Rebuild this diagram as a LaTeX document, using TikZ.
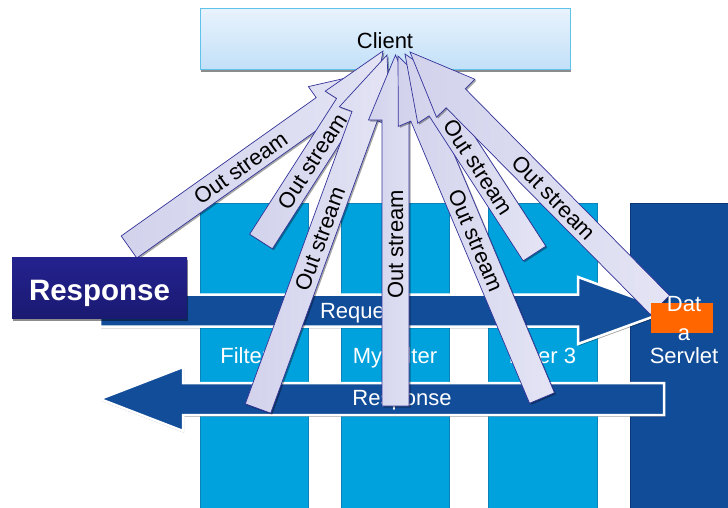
\documentclass[tikz,border=0pt]{standalone}
\usepackage{fontspec}
\setmainfont{Liberation Sans}
\usetikzlibrary{calc,shadows}

\definecolor{colfill}{HTML}{00A2DD}
\definecolor{colline}{HTML}{0A84B8}
\definecolor{servfill}{HTML}{104C98}
\definecolor{servline}{HTML}{0B3777}
\definecolor{flowblue}{HTML}{114D99}
\definecolor{streamdark}{HTML}{D2D2EC}
\definecolor{streamlight}{HTML}{E4E4F5}
\definecolor{streamline}{HTML}{33339A}
\definecolor{clienttop}{HTML}{E8F3FD}
\definecolor{clientbot}{HTML}{C3E0F8}
\definecolor{clientline}{HTML}{5EC2EA}
\definecolor{labeltop}{HTML}{24228F}
\definecolor{labelbot}{HTML}{1A1A72}
\definecolor{dataorange}{HTML}{FF6600}

\tikzset{
  filtercol/.style={fill=colfill, draw=colline, line width=0.8pt},
  servletcol/.style={fill=servfill, draw=servline, line width=0.8pt},
  flowarrow/.style={fill=flowblue, draw=white, line width=2.5pt, line join=miter,
    drop shadow={shadow xshift=1.2pt, shadow yshift=-1.8pt, opacity=0.35, fill=black}},
  streamshape/.style={left color=streamdark, right color=streamlight, draw=streamline,
    line width=0.7pt, line join=miter,
    drop shadow={shadow xshift=1.5pt, shadow yshift=-1.5pt, opacity=0.35, fill=black}},
  clientbox/.style={top color=clienttop, bottom color=clientbot, draw=clientline, line width=1pt,
    drop shadow={shadow xshift=1pt, shadow yshift=-2.5pt, opacity=0.45, fill=black}},
  labelbox/.style={top color=labeltop, bottom color=labelbot, draw=none,
    drop shadow={shadow xshift=1pt, shadow yshift=-2.5pt, opacity=0.45, fill=black}},
  whitetxt/.style={font=\fontsize{22}{26}\selectfont, text=white, inner sep=0pt},
  blacktxt/.style={font=\fontsize{22}{26}\selectfont, text=black, inner sep=0pt},
  streamtxt/.style={font=\fontsize{22}{26}\selectfont, text=black, inner sep=0pt, sloped},
}

% hollow "Out stream" arrow from tail #1 to tip #2
\newcommand\streamarrow[2]{%
  \coordinate (sb) at ($(#2)!65pt!(#1)$);
  \path[streamshape]
    ($(#1)!13.5pt!90:(#2)$) -- ($(sb)!13.5pt!-90:(#1)$) -- ($(sb)!27pt!-90:(#1)$)
    -- (#2) -- ($(sb)!27pt!90:(#1)$) -- ($(sb)!13.5pt!90:(#1)$)
    -- ($(#1)!13.5pt!-90:(#2)$) -- cycle;
}

\begin{document}
\begin{tikzpicture}[x=1pt, y=-1pt]
\useasboundingbox (0,0) rectangle (728,507);
\clip (0,0) rectangle (728,507);
\fill[white] (0,0) rectangle (728,507);

% client
\path[clientbox] (200,8) rectangle (570,69);
\node[blacktxt, anchor=base] (client) at (385,48.3) {Client};

% filter columns and servlet
\path[filtercol] (200,203) rectangle (308,512);
\path[filtercol] (341,203) rectangle (449,512);
\path[filtercol] (488,203) rectangle (597,512);
\path[servletcol] (630,203) rectangle (735,512);
\node[whitetxt, anchor=base] (f1) at (254,363.3) {Filter 1};
\node[whitetxt, anchor=base] (f2) at (395,363.3) {My Filter};
\node[whitetxt, anchor=base] (f3) at (542.5,363.3) {Filter 3};

% request / response flow
\path[flowarrow] (100,294.5) -- (578,294.5) -- (578,277) -- (670,310.5) -- (578,344)
  -- (578,326.5) -- (100,326.5) -- cycle;
\node[whitetxt, anchor=base] (req) at (361,318) {Request};
\path[flowarrow] (664,383) -- (183,383) -- (183,367) -- (100,399) -- (183,431)
  -- (183,415) -- (664,415) -- cycle;
\node[whitetxt, anchor=base] (resp) at (402,405) {Response};

% out streams towards the client
\coordinate (ta) at (129,247);   \coordinate (pa) at (377,71);
\coordinate (tb) at (261,241.5); \coordinate (pb) at (383,51);
\coordinate (tc) at (258,408.5); \coordinate (pc) at (387,55);
\coordinate (td) at (395.5,406); \coordinate (pd) at (395.5,55);
\coordinate (te) at (542,398);   \coordinate (pe) at (398,56);
\coordinate (tf) at (534.5,253.5); \coordinate (pf) at (405,54);
\coordinate (tg) at (660,305);   \coordinate (pg) at (410,52);

\streamarrow{ta}{pa}
\path (ta) -- (pa) node[streamtxt, pos=0.45] (sa) {Out stream};
\streamarrow{tb}{pb}
\path (tb) -- (pb) node[streamtxt, pos=0.42] (sbt) {Out stream};
\streamarrow{tc}{pc}
\path (tc) -- (pc) node[streamtxt, pos=0.48] (sc) {Out stream};
\streamarrow{td}{pd}
\path (td) -- (pd) node[streamtxt, pos=0.46] (sd) {Out stream};
\streamarrow{te}{pe}
\path (pe) -- (te) node[streamtxt, pos=0.54] (se) {Out stream};
\streamarrow{tf}{pf}
\path (pf) -- (tf) node[streamtxt, pos=0.568] (sf) {Out stream};
\streamarrow{tg}{pg}
\path (pg) -- (tg) node[streamtxt, pos=0.576] (sg) {Out stream};

% data block and servlet caption
\fill[dataorange] (651,303) rectangle (713,333);
\node[whitetxt, anchor=base] (d1) at (684,311.7) {Dat};
\node[whitetxt, anchor=base] (d2) at (684,340) {a};
\node[whitetxt, anchor=base] (d3) at (684,363) {Servlet};

% response caption
\path[labelbox] (12,257) rectangle (187,318);
\node[whitetxt, font=\fontsize{29.5}{34}\selectfont\bfseries, anchor=base] (rlabel) at (99.5,300) {Response};
\end{tikzpicture}
\end{document}
